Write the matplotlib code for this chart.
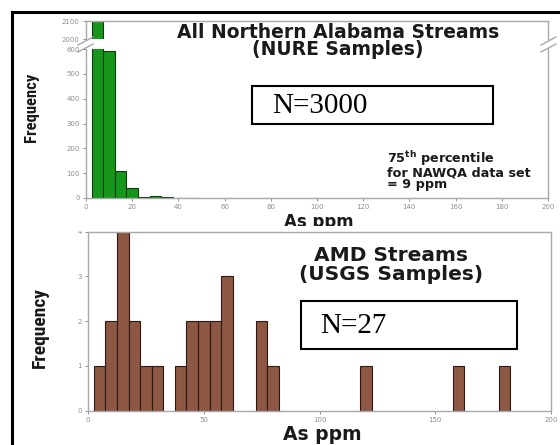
import matplotlib
matplotlib.use("Agg")
import matplotlib.pyplot as plt
from matplotlib.patches import Rectangle
from matplotlib.lines import Line2D

# ---------------- data ----------------
# Top panel: All Northern Alabama streams (NURE), bin centres (ppm) and counts
nure_bins = [5, 10, 15, 20, 25, 30, 35, 40, 45]
nure_counts = [2240, 590, 110, 42, 5, 10, 3, 2, 2]

# Bottom panel: AMD streams (USGS), bin centres (ppm) and counts
usgs_bins = [5, 10, 15, 20, 25, 30, 40, 45, 50, 55, 60, 75, 80, 120, 160, 180]
usgs_counts = [1, 2, 4, 2, 1, 1, 1, 2, 2, 2, 3, 2, 1, 1, 1, 1]

bin_width = 5
top_xticks = [0, 20, 40, 60, 80, 100, 120, 140, 160, 180, 200]
top_yticks_low = [0, 100, 200, 300, 400, 500, 600]
top_yticks_high = [2000, 2100]
bot_xticks = [0, 50, 100, 150, 200]
bot_yticks = [0, 1, 2, 3, 4]

W, H = 560, 445
GREEN = "#16961a"
GREEN_EDGE = "#0b3d0b"
BROWN = "#8c5743"
BROWN_EDGE = "#2e1a12"
SPINE = "#a8a8a8"
TICK = "#8f8f8f"

fig = plt.figure(figsize=(W / 100, H / 100), dpi=100)
fig.patch.set_facecolor("white")


def fx(x):
    return x / W


def fy(y):
    return 1 - y / H


def ax_rect(x0, y0, x1, y1):
    return [fx(x0), fy(y1), fx(x1) - fx(x0), fy(y0) - fy(y1)]


def style(ax):
    for s in ax.spines.values():
        s.set_color(SPINE)
        s.set_linewidth(1.0)
    ax.tick_params(colors=TICK, labelcolor=TICK, labelsize=5, length=2.5,
                   width=0.7, direction="out", pad=2)


# ---- top panel: broken axis ----
ax_hi = fig.add_axes(ax_rect(86, 21, 548, 39))
ax_lo = fig.add_axes(ax_rect(86, 49, 548, 198))
for ax in (ax_hi, ax_lo):
    ax.bar(nure_bins, nure_counts, width=bin_width, color=GREEN,
           edgecolor=GREEN_EDGE, linewidth=0.8)
    ax.set_xlim(0, 200)
    style(ax)
ax_lo.set_ylim(0, 600)
ax_hi.set_ylim(2000, 2100)
ax_lo.set_yticks(top_yticks_low)
ax_hi.set_yticks(top_yticks_high)
ax_lo.set_xticks(top_xticks)
ax_hi.set_xticks([])
ax_lo.spines["top"].set_visible(False)
ax_hi.spines["bottom"].set_visible(False)

# break marks
for (x0, x1) in [(78, 93), (541, 556)]:
    for yy in (41, 48):
        fig.add_artist(Line2D([fx(x0), fx(x1)], [fy(yy + 4), fy(yy - 4)],
                              color=SPINE, lw=1.0))

# ---- bottom panel ----
ax_b = fig.add_axes(ax_rect(88, 231.7, 551, 410.7))
ax_b.bar(usgs_bins, usgs_counts, width=bin_width, color=BROWN,
         edgecolor=BROWN_EDGE, linewidth=0.8)
ax_b.set_xlim(0, 200)
ax_b.set_ylim(0, 4)
ax_b.set_xticks(bot_xticks)
ax_b.set_yticks(bot_yticks)
style(ax_b)

# ---- texts ----
bold_wide = dict(family="DejaVu Sans", fontweight="bold", color="#1a1a1a")
fig.text(fx(338), fy(41), "All Northern Alabama Streams\n(NURE Samples)",
         ha="center", va="center", multialignment="center", linespacing=0.85,
         fontsize=13.5, **bold_wide)
fig.text(fx(391), fy(265), "AMD Streams\n(USGS Samples)", ha="center",
         va="center", multialignment="center", linespacing=0.95,
         fontsize=14.5, **bold_wide)

fig.text(fx(387), fy(170), "75$^{\\mathbf{th}}$ percentile\nfor NAWQA data set\n= 9 ppm",
         ha="left", va="center", multialignment="left", linespacing=0.85,
         fontsize=9.2, **bold_wide)

fig.text(fx(319), fy(227), "As ppm", ha="center", va="baseline", fontsize=12,
         **bold_wide)
fig.text(fx(322), fy(440), "As ppm", ha="center", va="baseline", fontsize=13.5,
         **bold_wide)

narrow = dict(family=["Liberation Sans Narrow", "Roboto Condensed",
                      "Liberation Sans"],
              fontweight="bold", color="#1a1a1a", rotation=90)
fig.text(fx(31), fy(107), "Frequency", ha="center", va="center", fontsize=12,
         **narrow)
fig.text(fx(40), fy(327), "Frequency", ha="center", va="center", fontsize=14,
         **narrow)

# white strip covering lower part of the top "As ppm" (overlapped panel)
fig.add_artist(Rectangle((fx(60), fy(231.2)), fx(540) - fx(60), fy(225.5) - fy(231.2),
                         transform=fig.transFigure, facecolor="white",
                         edgecolor="none", zorder=5))

# N boxes
fig.add_artist(Rectangle((fx(252), fy(124)), fx(493) - fx(252), fy(86) - fy(124),
                         transform=fig.transFigure, facecolor="white",
                         edgecolor="black", lw=1.5, zorder=6))
fig.text(fx(272), fy(106), "N=3000", ha="left", va="center", fontsize=21,
         family="Liberation Serif", color="black", zorder=7)
fig.add_artist(Rectangle((fx(301), fy(349)), fx(517) - fx(301), fy(301) - fy(349),
                         transform=fig.transFigure, facecolor="white",
                         edgecolor="black", lw=1.5, zorder=6))
fig.text(fx(320), fy(326), "N=27", ha="left", va="center", fontsize=21,
         family="Liberation Serif", color="black", zorder=7)

# outer black frame
fig.add_artist(Line2D([fx(12), fx(561)], [fy(12), fy(12)], color="black", lw=2.2))
fig.add_artist(Line2D([fx(12), fx(12)], [fy(12), fy(446)], color="black", lw=2.2))

fig.savefig("out.png", dpi=100, facecolor="white")
